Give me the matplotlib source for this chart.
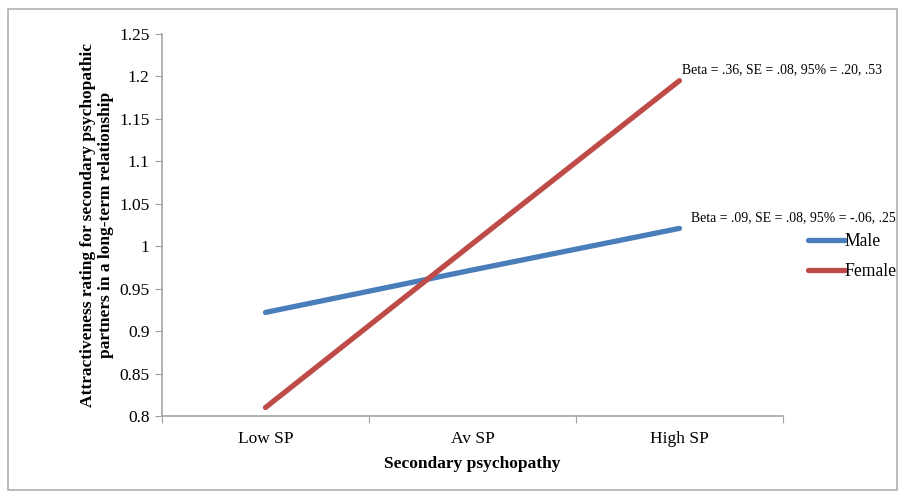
import matplotlib
matplotlib.use("Agg")
import matplotlib.pyplot as plt
import matplotlib.patches as mpatches

# data
categories = ["Low SP", "Av SP", "High SP"]
male = [0.922, 0.972, 1.021]
female = [0.810, 1.003, 1.195]
yticks = [0.8, 0.85, 0.9, 0.95, 1.0, 1.05, 1.1, 1.15, 1.2, 1.25]
ytick_labels = ["0.8", "0.85", "0.9", "0.95", "1", "1.05", "1.1", "1.15", "1.2", "1.25"]
note_female = "Beta = .36, SE = .08, 95% = .20, .53"
note_male = "Beta = .09, SE = .08, 95% = -.06, .25"

plt.rcParams['font.family'] = ['Liberation Serif', 'DejaVu Serif']

fig = plt.figure(figsize=(9.02, 4.96), dpi=100)
ax = fig.add_axes([0.1796, 0.1613, 0.6884, 0.7702])

# outer frame
fig.patches.append(mpatches.Rectangle((0.009, 0.012), 0.985, 0.97, transform=fig.transFigure,
                                      fill=False, edgecolor='#b0b0b0', linewidth=1.2))

xs = [i + 0.5 for i in range(len(categories))]
ax.plot(xs, male, color='#4A7EBB', lw=3.8, solid_capstyle='round', label='Male')
ax.plot(xs, female, color='#BE4B48', lw=3.8, solid_capstyle='round', label='Female')

ax.set_xlim(0, len(categories))
ax.set_ylim(0.8, 1.25)
ax.set_yticks(yticks)
ax.set_yticklabels(ytick_labels, fontsize=12.5)
ax.set_xticks(range(len(categories) + 1))
ax.set_xticklabels([])
ax.set_xticks(xs, minor=True)
ax.set_xticklabels(categories, minor=True, fontsize=12.5)
ax.tick_params(axis='x', which='minor', length=0, pad=11)
ax.tick_params(axis='both', which='major', length=5, color='#a0a0a0', direction='out')
ax.tick_params(axis='y', pad=4)

for s in ['top', 'right']:
    ax.spines[s].set_visible(False)
for s in ['left', 'bottom']:
    ax.spines[s].set_color('#a6a6a6')
    ax.spines[s].set_linewidth(1.2)

ax.set_xlabel("Secondary psychopathy", fontsize=12.5, fontweight='bold', labelpad=6)
ax.set_ylabel("Attractiveness rating for secondary psychopathic\npartners in a long-term relationship",
              fontsize=12.5, fontweight='bold', labelpad=4, linespacing=1.1)

ax.annotate(note_female, (xs[-1], female[-1]), xytext=(2, 8), textcoords='offset points',
            fontsize=9.9, va='center', ha='left', annotation_clip=False)
ax.annotate(note_male, (xs[-1], male[-1]), xytext=(8, 8), textcoords='offset points',
            fontsize=9.9, va='center', ha='left', annotation_clip=False)

ax.legend(loc='upper left', bbox_to_anchor=(1.04, 0.478), frameon=False, fontsize=12.7,
          handlelength=2.1, handletextpad=0.0, labelspacing=0.72, borderaxespad=0,
          borderpad=0)

fig.savefig("out.png", dpi=100)
